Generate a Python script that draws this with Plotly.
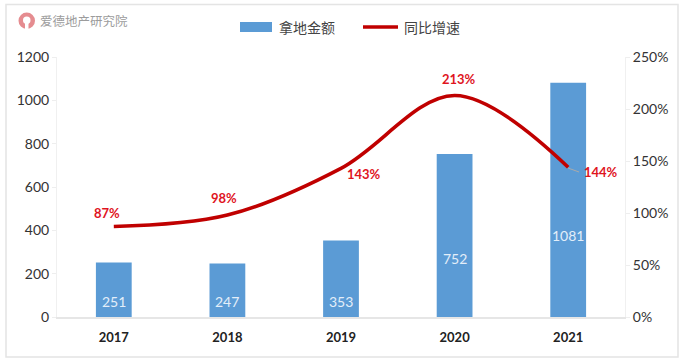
import plotly.graph_objects as go

years = ["2017", "2018", "2019", "2020", "2021"]
amount = [251, 247, 353, 752, 1081]
growth = [0.87, 0.98, 1.43, 2.13, 1.44]
growth_labels = ["87%", "98%", "143%", "213%", "144%"]
left_ticks = [0, 200, 400, 600, 800, 1000, 1200]
right_ticks = [0, 0.5, 1.0, 1.5, 2.0, 2.5]
series_names = ["拿地金额", "同比增速"]
brand = "爱德地产研究院"

BLUE = "#5b9bd5"
RED = "#c00000"
LABEL_RED = "#e0141e"
GRAY = "#e6e6e6"
TXT = "#333333"
LATIN = "Lato, 'Open Sans', sans-serif"
CJK = "'Noto Sans CJK SC', sans-serif"

L, R, T, B = 57, 625, 57, 317
W, H = 685, 363
def px(x): return (x - L) / (R - L)
def py(y): return (B - y) / (B - T)

fig = go.Figure()
fig.add_trace(go.Bar(x=years, y=amount, name=series_names[0], width=0.315,
                     marker=dict(color=BLUE, line_width=0)))
fig.add_trace(go.Scatter(x=years, y=growth, name=series_names[1], yaxis="y2",
                         mode="lines",
                         line=dict(color=RED, width=3.6, shape="spline", smoothing=1.0)))

# bar value labels, lifted from the baseline by a pixel offset
bar_label_lift = [16, 16, 16, 59, 82]
for i, (v, lift) in enumerate(zip(amount, bar_label_lift)):
    fig.add_annotation(x=i, y=0, text=str(v), showarrow=False, yshift=lift,
                       font=dict(color="#e3eef9", size=14, family=LATIN))

offsets = [(-7, -14), (-3, -17), (23, 6), (4, -16), (33, 5)]
for i, (g, lab, (dx, dy)) in enumerate(zip(growth, growth_labels, offsets)):
    fig.add_annotation(x=i, y=g, yref="y2", text=f"<b>{lab}</b>", showarrow=False,
                       xshift=dx, yshift=-dy,
                       font=dict(color=LABEL_RED, size=13, family=LATIN))

shapes = [
    dict(type="rect", xref="paper", yref="paper", x0=px(6), x1=px(678), y0=py(4.5), y1=py(357),
         line=dict(color="#e4e4e4", width=1.5), fillcolor="rgba(0,0,0,0)", layer="below"),
    dict(type="line", xref="paper", yref="paper", x0=px(568), x1=px(579), y0=py(168), y1=py(172),
         line=dict(color="#aaaaaa", width=1)),
    dict(type="rect", xref="paper", yref="paper", x0=px(240), x1=px(272), y0=py(22), y1=py(32),
         fillcolor=BLUE, line_width=0),
    dict(type="line", xref="paper", yref="paper", x0=px(363), x1=px(398), y0=py(27), y1=py(27),
         line=dict(color=RED, width=3.6)),
    dict(type="circle", xref="paper", yref="paper", x0=px(18.5), x1=px(35), y0=py(12.5), y1=py(29),
         fillcolor="#e58c90", line_width=0),
    dict(type="circle", xref="paper", yref="paper", x0=px(23), x1=px(30.5), y0=py(16.5), y1=py(24),
         fillcolor="white", line_width=0),
    dict(type="rect", xref="paper", yref="paper", x0=px(25), x1=px(28.5), y0=py(22), y1=py(29.5),
         fillcolor="white", line_width=0),
]
fig.update_layout(shapes=shapes)

def note(x, y, text, size, color, family=CJK, anchor="left"):
    fig.add_annotation(xref="paper", yref="paper", x=px(x), y=py(y), text=text,
                       showarrow=False, xanchor=anchor, yanchor="middle",
                       font=dict(size=size, color=color, family=family))

note(38, 20, brand, 12.5, "#9c9c9c")
note(276.5, 27, series_names[0], 14, "#444444")
note(402, 27, series_names[1], 14, "#444444")

fig.update_layout(
    width=W, height=H, autosize=False,
    margin=dict(l=L, r=W - R, t=T, b=H - B),
    paper_bgcolor="white", plot_bgcolor="white",
    showlegend=False,
    xaxis=dict(type="category", range=[-0.5, 4.5], tickfont=dict(size=13, color="#222222", family=LATIN),
               tickprefix="<b>", ticksuffix="</b>", ticks="", ticklen=0, ticklabelstandoff=8,
               showgrid=False, showline=True, linecolor=GRAY, linewidth=1.5, zeroline=False),
    yaxis=dict(range=[0, 1200], tickvals=left_ticks, showgrid=False, zeroline=False,
               showline=True, linecolor="#f0f0f0", linewidth=1, ticks="outside", ticklen=4,
               tickcolor="#eeeeee", tickfont=dict(size=14, color=TXT, family=LATIN)),
    yaxis2=dict(range=[0, 2.5], overlaying="y", side="right", tickvals=right_ticks,
                tickformat=".0%", showgrid=False, zeroline=False, showline=True,
                linecolor="#f0f0f0", linewidth=1, ticks="outside", ticklen=4,
                tickcolor="#eeeeee", tickfont=dict(size=14, color=TXT, family=LATIN)),
)
fig.write_html("out.html", config={"displayModeBar": False},
               post_script="document.body.style.margin='0';")
